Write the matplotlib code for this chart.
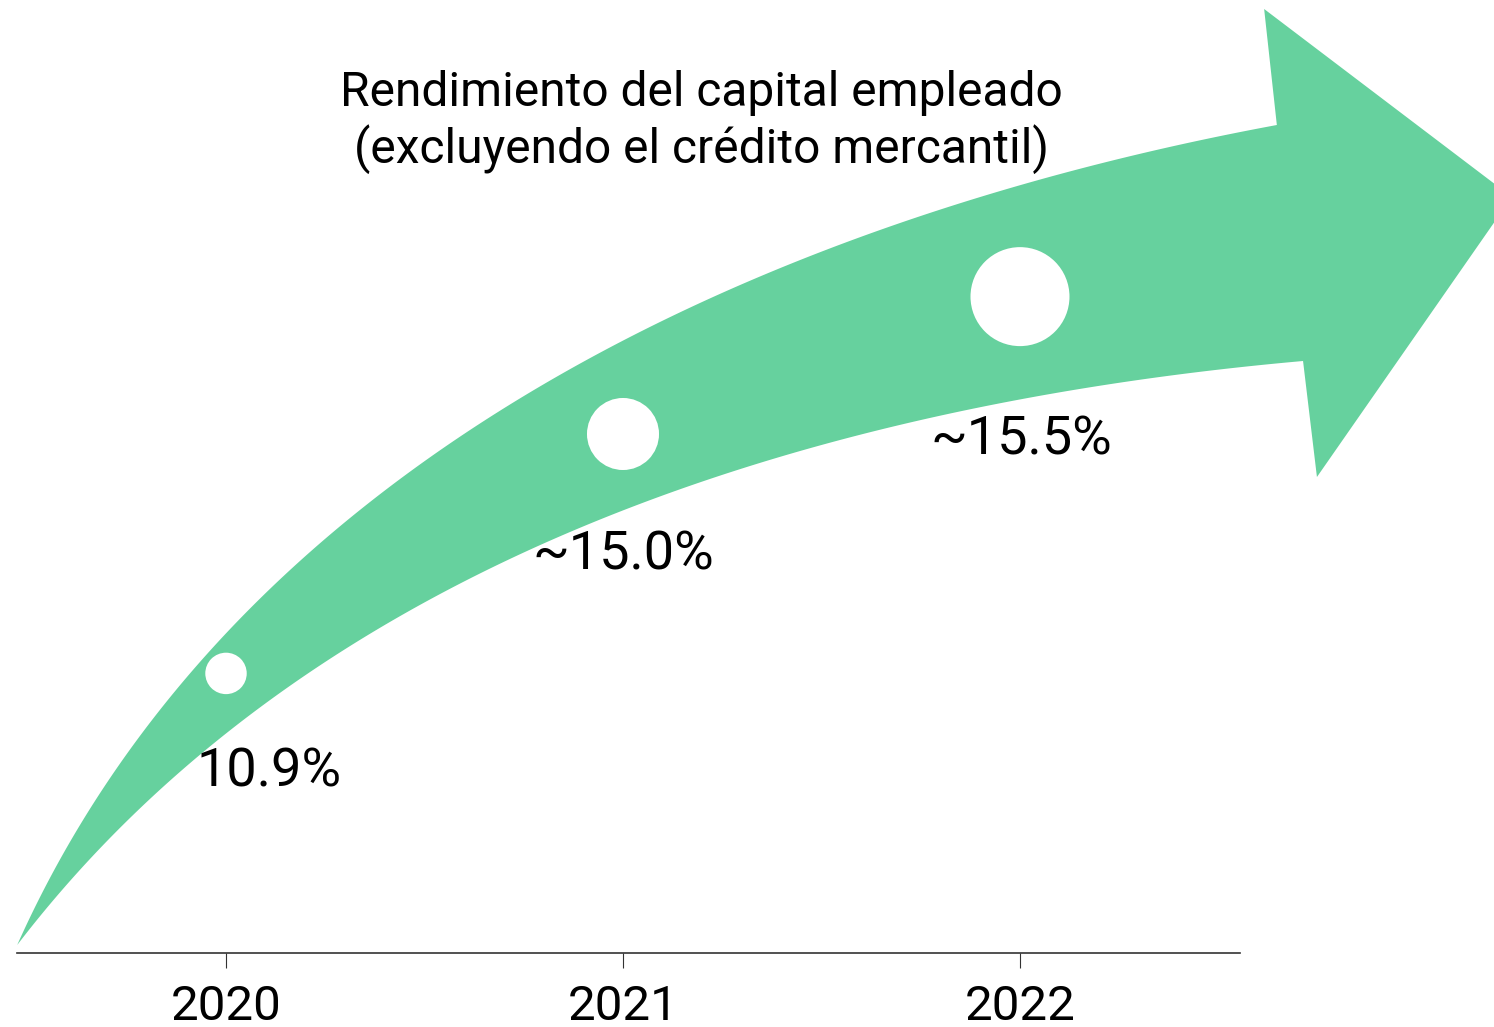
import matplotlib.pyplot as plt
import numpy as np

plt.rcParams['font.family'] = ['Roboto', 'DejaVu Sans']

# data
years = [2020, 2021, 2022]
values = [10.9, 15.0, 15.5]
value_labels = ['10.9%', '~15.0%', '~15.5%']
title_lines = ['Rendimiento del capital empleado',
               '(excluyendo el crédito mercantil)']

GREEN = '#66d19e'

# arrow shape: x in years, y in pixels above the axis line
arrow_upper = [(2019.474, 8), (2019.582, 103), (2019.766, 210), (2019.909, 279),
               (2020.111, 363), (2020.270, 413), (2020.413, 468), (2020.640, 536),
               (2020.892, 590), (2021.144, 640), (2021.395, 685), (2021.647, 725),
               (2021.950, 760), (2022.202, 786), (2022.453, 810), (2022.647, 828)]
arrow_lower = [(2019.474, 8), (2019.675, 103), (2019.935, 203), (2020.186, 270),
               (2020.438, 336), (2020.690, 395), (2020.816, 413), (2021.068, 450),
               (2021.320, 483), (2021.572, 513), (2021.824, 543), (2022.202, 570),
               (2022.453, 581), (2022.713, 592)]
arrow_head = [(2022.615, 944), (2023.239, 756), (2022.748, 476)]

# where the dots sit across the band (0 = lower edge, 1 = upper edge)
band_pos = [0.6, 0.45, 0.48]
dot_sizes = [890, 2690, 5080]
label_offsets = [(43, -113), (0, -136), (1, -158)]

fig = plt.figure(figsize=(14.94, 10.27), dpi=100)
ax = fig.add_axes([0, 0, 1, 1])
ax.set_xlim(2019.4307, 2023.194)
ax.set_ylim(-74, 953)


def bezier_edge(pts, n=300):
    # one smooth cubic through the traced points (least squares, fixed ends)
    p = np.asarray(pts, float)
    d = ax.transData.transform(p)
    seg = np.hypot(*np.diff(d, axis=0).T)
    t = np.concatenate([[0], np.cumsum(seg)]) / seg.sum()
    b = np.column_stack([(1 - t) ** 3, 3 * t * (1 - t) ** 2,
                         3 * t ** 2 * (1 - t), t ** 3])
    rhs = p - np.outer(b[:, 0], p[0]) - np.outer(b[:, 3], p[-1])
    ctrl, *_ = np.linalg.lstsq(b[:, 1:3], rhs, rcond=None)
    cp = np.vstack([p[0], ctrl, p[-1]])
    tt = np.linspace(0, 1, n)[:, None]
    return ((1 - tt) ** 3 * cp[0] + 3 * tt * (1 - tt) ** 2 * cp[1]
            + 3 * tt ** 2 * (1 - tt) * cp[2] + tt ** 3 * cp[3])


up = bezier_edge(arrow_upper)
lo = bezier_edge(arrow_lower)
outline = np.vstack([up, arrow_head, lo[::-1]])
ax.fill(outline[:, 0], outline[:, 1], color=GREEN, lw=0, zorder=1)

yr = np.array(years, float)
y_up = np.interp(yr, up[:, 0], up[:, 1])
y_lo = np.interp(yr, lo[:, 0], lo[:, 1])
dot_y = y_lo + np.array(band_pos) * (y_up - y_lo)

ax.scatter(yr, dot_y, s=dot_sizes, color='white', linewidths=0, zorder=3)

for x, y, lab, off in zip(yr, dot_y, value_labels, label_offsets):
    ax.annotate(lab, (x, y), xytext=off, textcoords='offset pixels',
                ha='center', va='baseline', fontsize=39, color='black', zorder=4)

fig.text(701 / 1494, 1 - 106 / 1027, title_lines[0], ha='center', va='baseline',
         fontsize=34.5)
fig.text(701 / 1494, 1 - 163 / 1027, title_lines[1], ha='center', va='baseline',
         fontsize=34.5)

# axis
for s in ['top', 'right', 'left']:
    ax.spines[s].set_visible(False)
ax.spines['bottom'].set_position(('data', 0))
ax.spines['bottom'].set_bounds(2019.474, 2022.554)
ax.spines['bottom'].set_color('#333333')
ax.spines['bottom'].set_linewidth(1.2)
ax.set_yticks([])
ax.set_xticks(years)
ax.set_xticklabels([str(y) for y in years], fontsize=35.5)
ax.tick_params(axis='x', direction='out', length=11, width=0.8,
               color='#333333', pad=11)
ax.patch.set_alpha(0)

fig.savefig('out.png', dpi=100)
